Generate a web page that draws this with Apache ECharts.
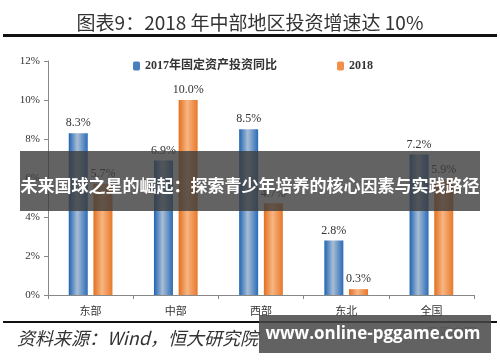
<!DOCTYPE html>
<html><head><meta charset="utf-8">
<script src="https://cdn.jsdelivr.net/npm/echarts@6/dist/echarts.min.js"></script>
<style>html,body{margin:0;padding:0;background:#fff}#c{width:500px;height:362px}</style>
</head><body><div id="c"></div>
<script>
var categories = ['东部', '中部', '西部', '东北', '全国'];
var series2017 = [8.3, 6.9, 8.5, 2.8, 7.2];
var series2018 = [5.7, 10.0, 4.7, 0.3, 5.9];
var yTicks = [0, 2, 4, 6, 8, 10, 12];
var seriesNames = ['2017年固定资产投资同比', '2018'];

var chart = echarts.init(document.getElementById('c'));
function grad(c1, c2, c3) {
  return new echarts.graphic.LinearGradient(0, 0, 1, 0, [
    {offset: 0, color: c1}, {offset: 0.45, color: c2}, {offset: 1, color: c3}
  ]);
}
var labelStyle = {show: true, position: 'top', distance: 4, color: '#333', fontFamily: 'Liberation Serif', fontSize: 12,
  formatter: function (p) { return p.value.toFixed(1) + '%'; }};
chart.setOption({
  animation: false,
  title: {text: '图表9：2018 年中部地区投资增速达 10%', left: 'center', top: 8,
    textStyle: {fontFamily: 'Noto Sans CJK SC', fontWeight: 'normal', fontSize: 19, color: '#333'}},
  legend: {left: 128, top: 55, itemWidth: 7, itemHeight: 9, itemGap: 60,
    textStyle: {fontFamily: 'Liberation Serif, Noto Sans CJK SC', fontWeight: 'bold', fontSize: 12, color: '#333'},
    data: [{name: seriesNames[0], itemStyle: {color: '#4a7fbf'}}, {name: seriesNames[1], itemStyle: {color: '#f0904a'}}]},
  grid: {left: 48, right: 26, top: 61, bottom: 67},
  xAxis: {type: 'category', data: categories,
    axisLine: {lineStyle: {color: '#888', width: 1}},
    axisTick: {show: true, alignWithLabel: false, length: 4, lineStyle: {color: '#888'}},
    axisLabel: {color: '#333', fontFamily: 'Noto Sans CJK SC', fontSize: 11, margin: 10}},
  yAxis: {type: 'value', min: yTicks[0], max: yTicks[yTicks.length - 1], interval: 2,
    axisLine: {show: true, lineStyle: {color: '#888', width: 1}},
    axisTick: {show: true, inside: false, length: 4, lineStyle: {color: '#888'}},
    splitLine: {show: false},
    axisLabel: {color: '#333', fontFamily: 'Liberation Serif', fontSize: 11, margin: 8,
      formatter: function (v) { return v + '%'; }}},
  series: [
    {name: seriesNames[0], type: 'bar', data: series2017, barWidth: 19, barGap: '30%',
      itemStyle: {color: grad('#1f64b4', '#a8bdd4', '#2a6cb8')}, label: labelStyle},
    {name: seriesNames[1], type: 'bar', data: series2018, barWidth: 19,
      itemStyle: {color: grad('#e26f1e', '#f8b583', '#e8782a')}, label: labelStyle}
  ],
  graphic: [
    {type: 'rect', shape: {x: 3, y: 34, width: 494, height: 3}, style: {fill: '#111'}, z: 10},
    {type: 'rect', shape: {x: 3, y: 321, width: 494, height: 2}, style: {fill: '#111'}, z: 10},
    {type: 'text', x: 17, y: 329, style: {text: '资料来源：Wind，恒大研究院', fontFamily: 'Noto Sans CJK SC', fontStyle: 'italic', fontSize: 18, fill: '#333'}, z: 10},
    {type: 'text', x: 425, y: 326, style: {text: '泽平宏观', fontFamily: 'Noto Sans CJK SC', fontSize: 13, fill: '#bbb'}, z: 10},
    {type: 'rect', shape: {x: 20, y: 151, width: 460, height: 60}, style: {fill: 'rgba(60,60,60,0.8)'}, z: 100},
    {type: 'text', x: 250, y: 186, style: {text: '未来国球之星的崛起：探索青少年培养的核心因素与实践路径', align: 'center', verticalAlign: 'middle',
      fontFamily: 'Noto Sans CJK SC', fontWeight: 'bold', fontSize: 17, fill: '#fff'}, z: 101},
    {type: 'rect', shape: {x: 259, y: 315, width: 232, height: 38}, style: {fill: 'rgba(70,70,70,0.85)'}, z: 100},
    {type: 'text', x: 373, y: 334, style: {text: 'www.online-pggame.com', align: 'center', verticalAlign: 'middle',
      fontFamily: 'Open Sans', fontWeight: 'bold', fontSize: 17, fill: '#fff'}, z: 101}
  ]
});
</script></body></html>
